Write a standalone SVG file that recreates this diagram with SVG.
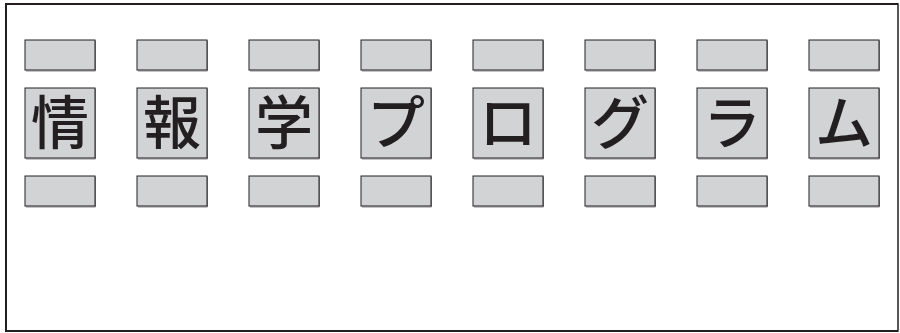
<svg xmlns="http://www.w3.org/2000/svg" width="900" height="333" viewBox="0 0 900 333">
<defs>
<style>
.b{fill:#d1d3d4;stroke:#231f20;stroke-width:1}
.s{fill:none;stroke:#8a8a8a;stroke-width:1}
.t{font-family:"Noto Sans CJK JP","Noto Sans CJK SC",sans-serif;font-size:58px;font-weight:500;fill:#231f20;text-anchor:middle}
</style>
<g id="cell">
<path class="s" d="M1.5 31.5H71V1"/>
<rect class="b" x="0.5" y="0.5" width="70" height="30"/>
<path class="s" d="M1.5 119.5H71V49"/>
<rect class="b" x="0.5" y="48.5" width="70" height="70"/>
<path class="s" d="M1.5 167.5H71V137"/>
<rect class="b" x="0.5" y="136.5" width="70" height="30"/>
</g>
</defs>
<rect x="0" y="0" width="900" height="333" fill="#ffffff"/>
<g id="frame">
<rect x="6" y="4" width="892" height="327" fill="none" stroke="#231f20" stroke-width="1.5"/>
<path d="M6 3V332M5 331H898M5 4H898" fill="none" stroke="#231f20" stroke-width="2"/>
</g>
<g id="col1"><use href="#cell" x="24.5" y="39.5"/><text class="t" x="60" y="144">情</text></g>
<g id="col2"><use href="#cell" x="136.5" y="39.5"/><text class="t" x="172" y="144">報</text></g>
<g id="col3"><use href="#cell" x="248.5" y="39.5"/><text class="t" x="284" y="144">学</text></g>
<g id="col4"><use href="#cell" x="360.5" y="39.5"/><text class="t" x="396" y="144">プ</text></g>
<g id="col5"><use href="#cell" x="472.5" y="39.5"/><text class="t" x="508" y="144">ロ</text></g>
<g id="col6"><use href="#cell" x="584.5" y="39.5"/><text class="t" x="620" y="144">グ</text></g>
<g id="col7"><use href="#cell" x="696.5" y="39.5"/><text class="t" x="732" y="144">ラ</text></g>
<g id="col8"><use href="#cell" x="808.5" y="39.5"/><text class="t" x="844" y="144">ム</text></g>
<g id="connectors"></g>
</svg>
